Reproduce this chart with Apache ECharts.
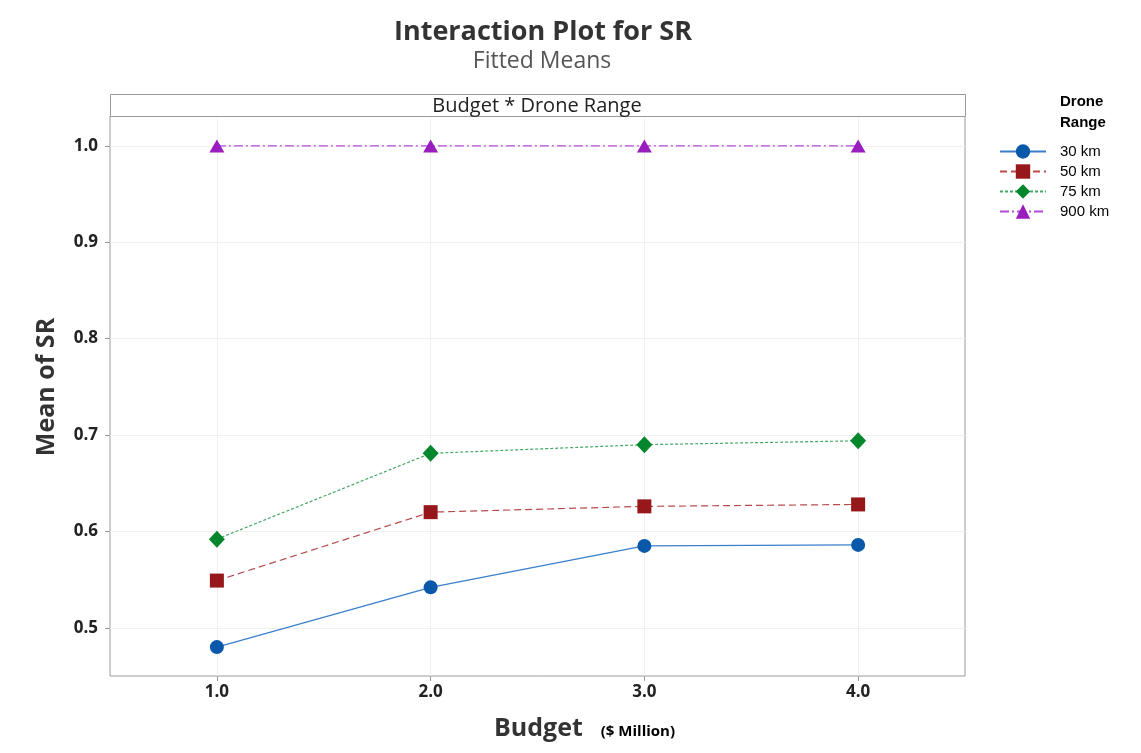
<!DOCTYPE html>
<html><head><meta charset="utf-8">
<script src="https://cdn.jsdelivr.net/npm/echarts@6/dist/echarts.min.js"></script>
<style>html,body{margin:0;padding:0;background:#fff}#c{width:1141px;height:753px}</style>
</head><body><div id="c"></div>
<script>
var budgets = [1.0, 2.0, 3.0, 4.0];
var yTicks = [0.5, 0.6, 0.7, 0.8, 0.9, 1.0];
var xTicks = [1, 2, 3, 4];
var seriesNames = ['30 km', '50 km', '75 km', '900 km'];
var sr30 = [0.480, 0.542, 0.585, 0.586];
var sr50 = [0.549, 0.620, 0.626, 0.628];
var sr75 = [0.592, 0.681, 0.690, 0.694];
var sr900 = [1.0, 1.0, 1.0, 1.0];

function pairs(vals){ return budgets.map(function(b,i){ return [b, vals[i]]; }); }

var chart = echarts.init(document.getElementById('c'), null, {renderer:'canvas'});
var font = '"Open Sans", "Noto Sans", sans-serif';
var option = {
  animation:false,
  backgroundColor:'#fff',
  title:[
    {text:'Interaction Plot for SR', left:538, top:14, textAlign:'center',
     textStyle:{fontFamily:font, fontSize:27, fontWeight:'bold', color:'#333'}},
    {text:'Fitted Means', left:537, top:45, textAlign:'center',
     textStyle:{fontFamily:font, fontSize:23, fontWeight:'normal', color:'#555'}},
    {text:'Drone\nRange', left:1055, top:86,
     textStyle:{fontFamily:'"Liberation Sans", Arial, sans-serif', fontSize:15, fontWeight:'bold', color:'#000', lineHeight:21}}
  ],
  legend:{
    orient:'vertical', left:994, top:139, itemWidth:46, itemHeight:18, itemGap:5,
    textStyle:{fontFamily:'"Liberation Sans", Arial, sans-serif', fontSize:15, color:'#000', padding:[0,0,0,9]},
    data:seriesNames
  },
  grid:{left:110, right:176, top:116, bottom:77, show:true, borderColor:'#9a9a9a', borderWidth:1, containLabel:false},
  xAxis:{
    type:'value', min:0.5, max:4.5,
    name:'{a|Budget}{b|($ Million)}', nameLocation:'middle', nameGap:40,
    nameTextStyle:{padding:[0,0,0,94], rich:{
      a:{fontFamily:font, fontSize:25, fontWeight:'bold', color:'#333'},
      b:{fontFamily:font, fontSize:15, fontWeight:'bold', color:'#000', padding:[6,0,0,18]}
    }},
    axisLine:{show:false},
    axisTick:{show:true, length:5, customValues:xTicks, lineStyle:{color:'#9a9a9a'}},
    axisLabel:{customValues:xTicks, margin:8, fontFamily:font, fontSize:17, fontWeight:'bold', color:'#222',
      formatter:function(v){return v.toFixed(1);}},
    splitLine:{show:true, lineStyle:{color:'#f0f0f0', width:1}}
  },
  yAxis:{
    type:'value', min:0.45, max:1.031,
    name:'Mean of SR', nameLocation:'middle', nameGap:51, nameRotate:90,
    nameTextStyle:{fontFamily:font, fontSize:25, fontWeight:'bold', color:'#333', padding:[0,0,0,18]},
    axisLine:{show:false},
    axisTick:{show:true, length:5, customValues:yTicks, lineStyle:{color:'#9a9a9a'}},
    axisLabel:{customValues:yTicks, margin:12, fontFamily:font, fontSize:17, fontWeight:'bold', color:'#222',
      formatter:function(v){return v.toFixed(1);}},
    splitLine:{show:true, lineStyle:{color:'#f0f0f0', width:1}}
  },
  graphic:[
    {type:'rect', shape:{x:110.5, y:94.5, width:855, height:22}, style:{fill:'#fff', stroke:'#9a9a9a', lineWidth:1}, z:10},
    {type:'text', x:537, y:106, style:{text:'Budget * Drone Range', fontFamily:font, fontSize:20, fill:'#222', textAlign:'center', textVerticalAlign:'middle'}, z:11}
  ],
  series:[
    {name:seriesNames[0], type:'line', data:pairs(sr30), symbol:'circle', symbolSize:14,
     itemStyle:{color:'#0a58aa'}, lineStyle:{color:'#3a7fcc', width:1.3, type:'solid'}},
    {name:seriesNames[1], type:'line', data:pairs(sr50), symbol:'rect', symbolSize:14,
     itemStyle:{color:'#96181b'}, lineStyle:{color:'#b84a4c', width:1.2, type:[7,4]}},
    {name:seriesNames[2], type:'line', data:pairs(sr75), symbol:'diamond', symbolSize:[16,17],
     itemStyle:{color:'#03862c'}, lineStyle:{color:'#44a865', width:1.2, type:[3,2]}},
    {name:seriesNames[3], type:'line', data:pairs(sr900), symbol:'triangle', symbolSize:[15,13],
     itemStyle:{color:'#9a1dbf'}, lineStyle:{color:'#b24ad8', width:1.3, type:[9,3,2,3]}}
  ]
};
chart.setOption(option);
</script></body></html>
